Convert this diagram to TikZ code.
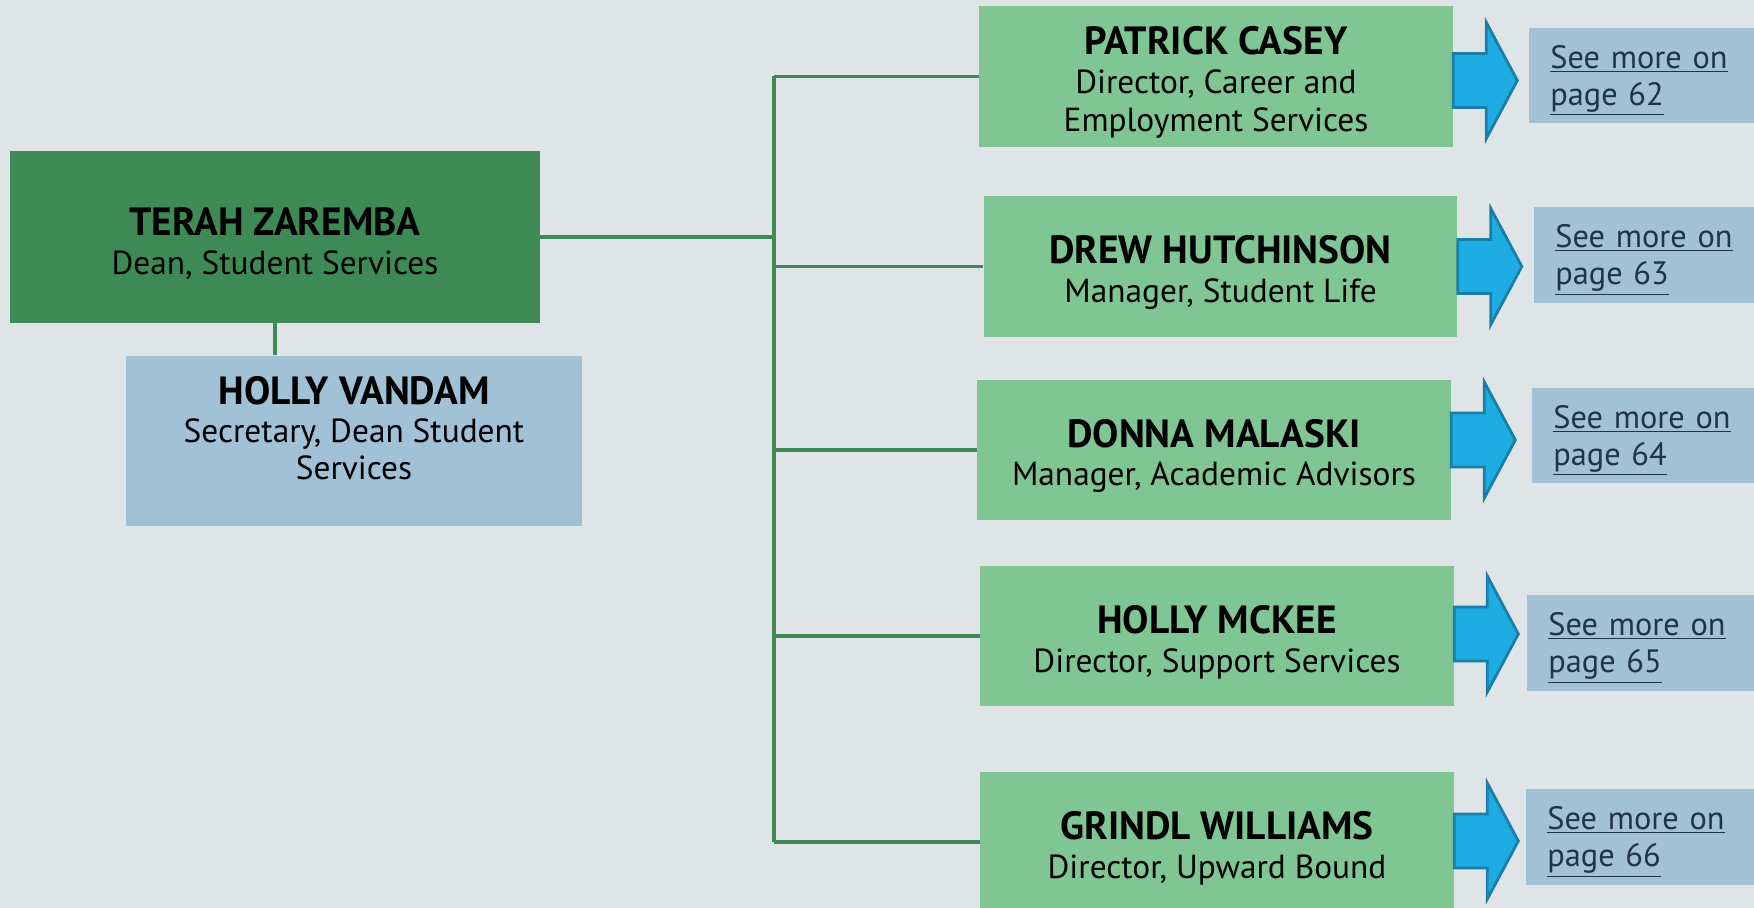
\documentclass[tikz,border=0pt]{standalone}
\usepackage{fontspec}
\setmainfont{PT Sans}
\usetikzlibrary{calc}
\definecolor{cbg}{HTML}{DFE4E7}
\definecolor{cdark}{HTML}{3E8A56}
\definecolor{clight}{HTML}{7FC694}
\definecolor{cblue}{HTML}{A1C1D6}
\definecolor{carrow}{HTML}{1DADE3}
\definecolor{carrowline}{HTML}{1B7EA8}
\definecolor{cnote}{HTML}{1F3447}
\tikzset{
  box/.style={fill=#1, align=center, inner sep=0pt, minimum width=9.48cm, minimum height=2.82cm,
    font=\fontsize{19}{22}\selectfont},
  box/.default=clight,
  link/.style={draw=cdark, line width=1.8pt},
  more/.style={fill=cblue, anchor=west, align=left, inner xsep=0.42cm, inner ysep=0pt,
    text width=3.96cm, minimum height=1.92cm, text=cnote, font=\fontsize{18.4}{21}\selectfont},
  pointer/.style={fill=carrow, draw=carrowline, line width=1.6pt, line join=miter},
}
\newcommand{\who}[1]{{\fontsize{22.4}{24}\selectfont\bfseries\rule{0pt}{23pt}#1}}
\newcommand{\seemore}[1]{\rule{0pt}{18.9pt}\underline{See more on}\\\underline{page #1}}

\begin{document}
\begin{tikzpicture}[x=0.02cm, y=-0.02cm]
  \useasboundingbox (0,0) rectangle (1754,908);
  \fill[cbg] (0,0) rectangle (1754,908);
  \clip (0,0) rectangle (1754,908);
  % dean and secretary
  \node[box=cdark, minimum width=10.6cm, minimum height=3.44cm] (t) at (275,237) {\who{TERAH ZAREMBA}\\Dean, Student Services};
  \node[box=cblue, minimum width=9.12cm, minimum height=3.42cm] (v) at (354,441) {};
  \node[align=center, font=\fontsize{19}{21.5}\selectfont] (vt) at ($(v)+(0,-19)$) {\who{HOLLY VANDAM}\\Secretary, Dean Student\\Services};
  \draw[link] (t.south) -- (t.south |- v.north);
  % direct reports
  \node[box] (p) at (1216,76.5) {\who{PATRICK CASEY}\\Director, Career and\\Employment Services};
  \node[box] (d) at (1220.5,266.5) {\who{DREW HUTCHINSON}\\Manager, Student Life};
  \node[box] (m) at (1214,450) {\who{DONNA MALASKI}\\Manager, Academic Advisors};
  \node[box] (h) at (1217,636) {\who{HOLLY MCKEE}\\Director, Support Services};
  \node[box] (g) at (1217,842) {\who{GRINDL WILLIAMS}\\Director, Upward Bound};
  % bus
  \coordinate (j1) at (774,76.5);
  \coordinate (j5) at (774,842);
  \draw[link] (t.east) -- (t.east -| j1);
  \draw[link] (j1) -- (j5);
  \foreach \b in {p,d,m,h,g}
    \draw[link] (\b.west -| j1) -- (\b.west);
  % arrows
  \foreach \b/\dy in {p/4, d/0, m/-10, h/-2, g/-1}
    \draw[pointer] ($(\b.east)+(0,\dy-27)$) -- ++(33,0) -- ++(0,-31) -- ++(31,58)
      -- ++(-31,58) -- ++(0,-31) -- ++(-33,0) -- cycle;
  % page links
  \node[more] (pm) at (1529,75.5) {\seemore{62}};
  \node[more] (dm) at (1534,255) {\seemore{63}};
  \node[more] (mm) at (1532,435.5) {\seemore{64}};
  \node[more] (hm) at (1527,643) {\seemore{65}};
  \node[more] (gm) at (1526,837) {\seemore{66}};
\end{tikzpicture}
\end{document}
